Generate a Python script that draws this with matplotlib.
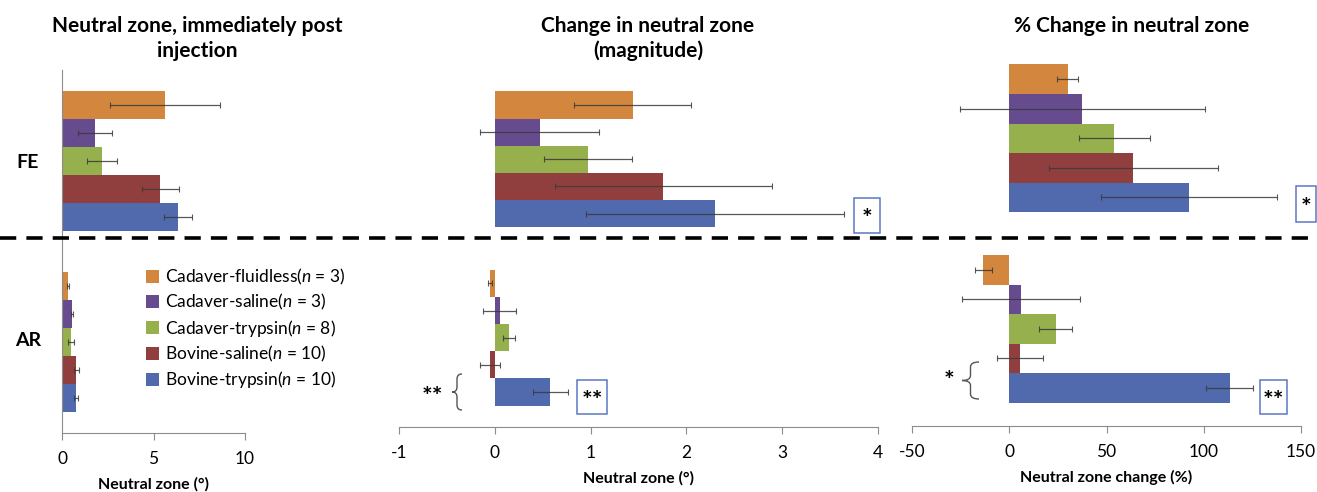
import numpy as np
import matplotlib
matplotlib.use("Agg")
import matplotlib.pyplot as plt
from matplotlib.patches import Patch, Rectangle, PathPatch
from matplotlib.path import Path
from matplotlib.lines import Line2D

plt.rcParams['font.family'] = ['Lato', 'DejaVu Sans']
plt.rcParams['mathtext.fontset'] = 'custom'
plt.rcParams['mathtext.it'] = 'Lato:italic'
plt.rcParams['mathtext.rm'] = 'Lato'
plt.rcParams['axes.unicode_minus'] = False

# data
groups = ["Cadaver-fluidless", "Cadaver-saline", "Cadaver-trypsin", "Bovine-saline", "Bovine-trypsin"]
n_values = [3, 3, 8, 10, 10]
colors = ["#D3863E", "#664C8E", "#95B04C", "#913F3E", "#5169AD"]
regions = ["FE", "AR"]

nz_fe = [5.65, 1.79, 2.19, 5.37, 6.34]
nz_fe_err = [3.0, 0.92, 0.82, 1.01, 0.75]
nz_ar = [0.31, 0.53, 0.49, 0.78, 0.78]
nz_ar_err = [0.05, 0.06, 0.14, 0.15, 0.10]

chg_fe = [1.44, 0.47, 0.97, 1.76, 2.30]
chg_fe_err = [0.61, 0.62, 0.46, 1.13, 1.35]
chg_ar = [-0.05, 0.05, 0.15, -0.05, 0.58]
chg_ar_err = [0.02, 0.17, 0.065, 0.10, 0.185]

pct_fe = [30.0, 37.5, 54.0, 63.7, 92.4]
pct_fe_err = [5.3, 63.0, 18.2, 43.4, 45.4]
pct_ar = [-13.3, 6.0, 23.8, 5.6, 113.3]
pct_ar_err = [4.5, 30.2, 8.5, 12.0, 12.1]

W, H = 1317, 492
fig = plt.figure(figsize=(W / 100, H / 100), dpi=100)


def px_axes(l, t, r, b):
    return fig.add_axes([l / W, 1 - b / H, (r - l) / W, (b - t) / H])


def fx(x):
    return x / W


def fy(y):
    return 1 - y / H


def draw_panel(ax, fe, fe_err, ar, ar_err, xlim, xticks, xlabel, bar_h, ybottom, left_spine):
    for gi, (vals, errs) in enumerate([(fe, fe_err), (ar, ar_err)]):
        centre = gi + 0.5
        for i in range(5):
            y = centre + (i - 2) * bar_h
            ax.barh(y, vals[i], height=bar_h, color=colors[i], edgecolor='none')
            ax.errorbar(vals[i], y, xerr=errs[i], fmt='none', ecolor='#3a3a3a',
                        elinewidth=0.9, capsize=2, capthick=0.8, alpha=0.85)
    ax.set_xlim(*xlim)
    ax.set_ylim(ybottom, 0)
    ax.set_xticks(xticks)
    ax.set_yticks([])
    for s in ['top', 'right']:
        ax.spines[s].set_visible(False)
    ax.spines['left'].set_visible(left_spine)
    ax.spines['left'].set_color('#8c8c8c')
    ax.spines['bottom'].set_color('#8c8c8c')
    ax.tick_params(axis='x', direction='out', length=5, color='#8c8c8c',
                   labelsize=12.5, pad=8)
    ax.set_xlabel(xlabel, fontsize=11.5, fontweight='bold', labelpad=7)
    ax.patch.set_alpha(0)


ax1 = px_axes(62, 70, 245, 433)
draw_panel(ax1, nz_fe, nz_fe_err, nz_ar, nz_ar_err, (0, 10), [0, 5, 10],
           "Neutral zone (°)", 0.154, 2.0, True)

ax2 = px_axes(399, 70, 878, 427)
draw_panel(ax2, chg_fe, chg_fe_err, chg_ar, chg_ar_err, (-1, 4), [-1, 0, 1, 2, 3, 4],
           "Neutral zone (°)", 0.152, 2.0, False)

ax3 = px_axes(912, 43, 1301, 426)
draw_panel(ax3, pct_fe, pct_fe_err, pct_ar, pct_ar_err, (-50, 150), [-50, 0, 50, 100, 150],
           "Neutral zone change (%)", 0.155, 2.01, False)

# titles
title_fs = 15
fig.text(fx(197), fy(26), "Neutral zone, immediately post", ha='center', va='center',
         fontsize=title_fs, fontweight='bold')
fig.text(fx(197), fy(51), "injection", ha='center', va='center', fontsize=title_fs, fontweight='bold')
fig.text(fx(648), fy(26), "Change in neutral zone", ha='center', va='center',
         fontsize=title_fs, fontweight='bold')
fig.text(fx(648), fy(51), "(magnitude)", ha='center', va='center', fontsize=title_fs, fontweight='bold')
fig.text(fx(1132), fy(26), "% Change in neutral zone", ha='center', va='center',
         fontsize=title_fs, fontweight='bold')

# region labels
fig.text(fx(28), fy(163), regions[0], ha='center', va='center', fontsize=14, fontweight='bold')
fig.text(fx(28), fy(340), regions[1], ha='center', va='center', fontsize=14, fontweight='bold')

# dashed separator
fig.add_artist(Line2D([0, 1], [fy(238), fy(238)], transform=fig.transFigure, color='black',
                      lw=2.6, dashes=(4.5, 2.8)))

# legend
handles = [Patch(facecolor=c, edgecolor='none') for c in colors]
labels = [f"{g}($n$ = {n})" for g, n in zip(groups, n_values)]
fig.legend(handles, labels, loc='upper left', bbox_to_anchor=(fx(146), fy(267)),
           frameon=False, fontsize=12.5, handlelength=0.75, handleheight=0.75,
           handletextpad=0.35, labelspacing=0.3, borderaxespad=0, borderpad=0)


# significance boxes
def sig_box(l, t, r, b, txt):
    fig.add_artist(Rectangle((fx(l), fy(b)), fx(r - l), (b - t) / H, transform=fig.transFigure,
                             facecolor='white', edgecolor='#5a78c8', lw=1.1))
    fig.text(fx((l + r) / 2), fy((t + b) / 2 + 4), txt, ha='center', va='center',
             fontsize=18, fontweight='bold')


sig_box(854, 198, 880, 233, "*")
sig_box(1296, 186, 1316, 222, "*")
sig_box(577, 380, 607, 414, "**")
sig_box(1260, 380, 1287, 414, "**")


# braces
def brace(x_tip, x_end, y_top, y_bot, txt, x_txt, y_off):
    x_mid = (x_tip + x_end) / 2
    yc = (y_top + y_bot) / 2
    r = 5
    pts = [(x_end, y_top), (x_mid, y_top), (x_mid, y_top + r),
           (x_mid, yc - r), (x_mid, yc), (x_tip, yc),
           (x_mid, yc), (x_mid, yc + r),
           (x_mid, y_bot - r), (x_mid, y_bot), (x_end, y_bot)]
    codes = [Path.MOVETO, Path.CURVE3, Path.CURVE3, Path.LINETO, Path.CURVE3, Path.CURVE3,
             Path.CURVE3, Path.CURVE3, Path.LINETO, Path.CURVE3, Path.CURVE3]
    verts = [(fx(x), fy(y)) for x, y in pts]
    fig.add_artist(PathPatch(Path(verts, codes), transform=fig.transFigure, facecolor='none',
                             edgecolor='#555555', lw=1))
    fig.text(fx(x_txt), fy(yc + y_off), txt, ha='center', va='center', fontsize=18, fontweight='bold')


brace(452, 462, 374, 410, "**", 432, 5)
brace(962, 979, 362, 399, "*", 949, 1)

fig.savefig("out.png", dpi=100)
